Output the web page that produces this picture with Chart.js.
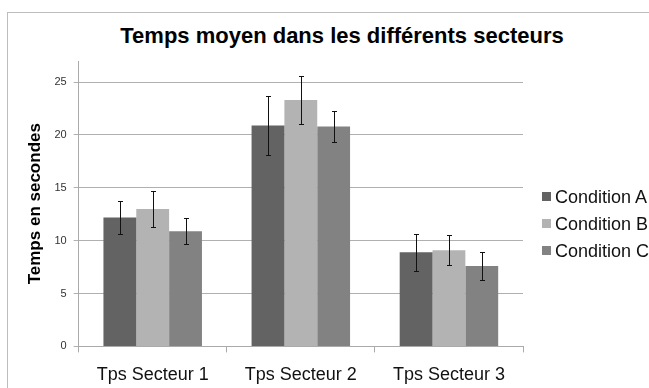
<!DOCTYPE html>
<html>
<head>
<meta charset="utf-8">
<script src="https://cdn.jsdelivr.net/npm/chart.js@4"></script>
<style>
  html, body { margin: 0; padding: 0; background: #fff; }
  body { width: 649px; height: 388px; overflow: hidden; position: relative; font-family: "Liberation Sans", Arial, sans-serif; }
  #frame { position: absolute; left: 7px; top: 12px; width: 700px; height: 450px; border: 1px solid #bdbdbd; box-sizing: border-box; }
  #wrap { position: absolute; left: 0; top: 0; width: 649px; height: 388px; }
  #title { position: absolute; left: 0; width: 684px; top: 23px; text-align: center; font-weight: bold; font-size: 22px; color: #000; }
  #legend { position: absolute; left: 542px; top: 186px; font-size: 18px; color: #111; }
  #legend div { height: 27px; line-height: 22px; white-space: nowrap; }
  #legend span.sw { display: inline-block; width: 9px; height: 9px; margin-right: 4px; vertical-align: 2px; }
</style>
</head>
<body>
<div id="frame"></div>
<div id="title">Temps moyen dans les différents secteurs</div>
<div id="wrap"><canvas id="chartTemps" width="649" height="388"></canvas></div>
<div id="legend"></div>
<script>
const categories = ['Tps Secteur 1', 'Tps Secteur 2', 'Tps Secteur 3'];
const seriesNames = ['Condition A', 'Condition B', 'Condition C'];
const conditionA = [12.2, 20.9, 8.9];
const conditionB = [13.0, 23.3, 9.1];
const conditionC = [10.9, 20.8, 7.6];
const errorA = [1.6, 2.75, 1.75];
const errorB = [1.7, 2.3, 1.4];
const errorC = [1.25, 1.5, 1.35];
const yTicks = [0, 5, 10, 15, 20, 25];
const couleurs = ['#636363', '#b3b3b3', '#828282'];

// barres d'erreur dessinées au-dessus des barres
const errorBars = {
    id: 'errorBars',
    afterDatasetsDraw(chart) {
        const ctx = chart.ctx;
        const y = chart.scales.y;
        ctx.save();
        ctx.strokeStyle = '#111';
        ctx.lineWidth = 1;
        chart.data.datasets.forEach((ds, i) => {
            const meta = chart.getDatasetMeta(i);
            meta.data.forEach((bar, j) => {
                const v = ds.data[j];
                const e = ds.errors[j];
                const x = Math.round(bar.x) + 0.5;
                const yHaut = Math.round(y.getPixelForValue(v + e)) + 0.5;
                const yBas = Math.round(y.getPixelForValue(v - e)) + 0.5;
                ctx.beginPath();
                ctx.moveTo(x, yHaut); ctx.lineTo(x, yBas);
                ctx.moveTo(x - 2.5, yHaut); ctx.lineTo(x + 2.5, yHaut);
                ctx.moveTo(x - 2.5, yBas); ctx.lineTo(x + 2.5, yBas);
                ctx.stroke();
            });
        });
        ctx.restore();
    }
};

const ctx = document.getElementById('chartTemps').getContext('2d');
const chartTemps = new Chart(ctx, {
    type: 'bar',
    data: {
        labels: categories,
        datasets: [
            { label: seriesNames[0], data: conditionA, errors: errorA, backgroundColor: couleurs[0] },
            { label: seriesNames[1], data: conditionB, errors: errorB, backgroundColor: couleurs[1] },
            { label: seriesNames[2], data: conditionC, errors: errorC, backgroundColor: couleurs[2] }
        ]
    },
    options: {
        responsive: false,
        animation: false,
        categoryPercentage: 0.665,
        barPercentage: 1.0,
        layout: {
            padding: { left: 25, right: 126, top: 61, bottom: -10 }
        },
        plugins: {
            legend: { display: false },
            title: { display: false },
            tooltip: { enabled: false }
        },
        scales: {
            x: {
                grid: {
                    display: true,
                    drawOnChartArea: false,
                    offset: true,
                    tickLength: 6,
                    color: '#aaa'
                },
                border: { color: '#aaa' },
                ticks: {
                    color: '#111',
                    padding: 12,
                    font: { family: '"Liberation Sans", Arial, sans-serif', size: 18 }
                }
            },
            y: {
                min: 0,
                max: 27,
                afterBuildTicks: (scale) => {
                    scale.ticks = yTicks.map(v => ({ value: v }));
                },
                grid: {
                    color: '#b0b0b0',
                    tickLength: 5
                },
                border: { color: '#aaa' },
                ticks: {
                    color: '#333',
                    padding: 7,
                    font: { family: '"Liberation Sans", Arial, sans-serif', size: 11 }
                },
                title: {
                    display: true,
                    text: 'Temps en secondes',
                    color: '#000',
                    padding: { top: 0, bottom: 2 },
                    font: { family: '"Liberation Sans", Arial, sans-serif', size: 17, weight: 'bold' }
                }
            }
        }
    },
    plugins: [errorBars]
});

// légende à droite
const legend = document.getElementById('legend');
seriesNames.forEach((nom, i) => {
    const ligne = document.createElement('div');
    ligne.innerHTML = '<span class="sw" style="background:' + couleurs[i] + '"></span>' + nom;
    legend.appendChild(ligne);
});
</script>
</body>
</html>
